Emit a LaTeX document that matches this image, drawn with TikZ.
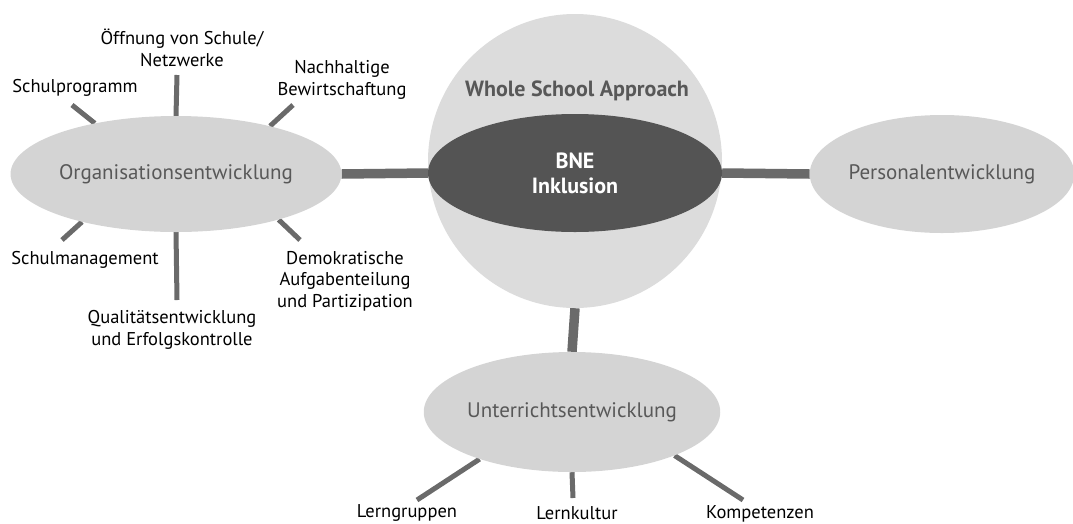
\documentclass[tikz,border=0pt]{standalone}
\usepackage{fontspec}
\setmainfont{PT Sans}
\usetikzlibrary{shapes.geometric,backgrounds}
\definecolor{circlegray}{HTML}{DCDCDC}
\definecolor{ellgray}{HTML}{D4D4D4}
\definecolor{darkell}{HTML}{545454}
\definecolor{linegray}{HTML}{6A6A6A}
\definecolor{txtgray}{HTML}{585858}
\tikzset{
  bigell/.style={ellipse, fill=ellgray, inner sep=0pt, text=txtgray,
    font=\fontsize{21}{25}\selectfont},
  lab/.style={align=center, inner sep=0pt, text=black,
    font=\fontsize{18.5}{21.5}\selectfont},
  mainline/.style={draw=linegray, line width=9.5pt},
  spoke/.style={draw=linegray, line width=5pt},
}
\begin{document}
\begin{tikzpicture}[x=1pt,y=-1pt]
\useasboundingbox (0,0) rectangle (1073,523);
% central sphere
\node[circle, fill=circlegray, minimum size=294pt, inner sep=0pt] (whole) at (575,161) {};
\node[text=txtgray, font=\bfseries\fontsize{22}{26}\selectfont, inner sep=0pt] (wsa) at (577,91) {Whole School Approach};
\node[ellipse, fill=darkell, minimum width=294pt, minimum height=118pt, inner sep=0pt,
  text=white, align=center, font=\bfseries\fontsize{22}{25}\selectfont] (bne) at (575,173) {BNE\\Inklusion};
% satellite ellipses
\node[bigell, minimum width=280pt, minimum height=116pt] (org) at (176,174) {Organisationsentwicklung};
\node[bigell, minimum width=258pt, minimum height=118pt] (pers) at (942,174) {Personalentwicklung};
\node[bigell, minimum width=274pt, minimum height=120pt] (unt) at (572,412) {Unterrichtsentwicklung};
% labels
\node[lab] (l1) at (75,88) {Schulprogramm};
\node[lab] (l2) at (182,48) {Öffnung von Schule/\\Netzwerke};
\node[lab] (l3) at (342,80) {Nachhaltige\\Bewirtschaftung};
\node[lab] (l4) at (85,260) {Schulmanagement};
\node[lab] (l5) at (172,330) {Qualitätsentwicklung\\und Erfolgskontrolle};
\node[lab] (l6) at (345,281) {Demokratische\\Aufgabenteilung\\und Partizipation};
\node[lab] (l7) at (407,513) {Lerngruppen};
\node[lab] (l8) at (577,513) {Lernkultur};
\node[lab] (l9) at (760,514) {Kompetenzen};
% spoke ends
\coordinate (c1) at (72,105);
\coordinate (c2) at (177,75);
\coordinate (c3) at (293,105);
\coordinate (c4) at (62,240);
\coordinate (c5) at (177,300);
\coordinate (c6) at (300,240);
\coordinate (c7) at (417,500);
\coordinate (c8) at (573,498);
\coordinate (c9) at (743,500);
\begin{scope}[on background layer]
\draw[mainline] (org.east) -- (bne.west);
\draw[mainline] (bne.east) -- (pers.west);
\draw[mainline] (whole.south) -- (unt.north);
\draw[spoke] (org.148) -- (c1);
\draw[spoke] (org.north) -- (c2);
\draw[spoke] (org.27) -- (c3);
\draw[spoke] (org.207) -- (c4);
\draw[spoke] (org.south) -- (c5);
\draw[spoke] (org.336) -- (c6);
\draw[spoke] (unt.207) -- (c7);
\draw[spoke] (unt.south) -- (c8);
\draw[spoke] (unt.337) -- (c9);
\end{scope}
\end{tikzpicture}
\end{document}
